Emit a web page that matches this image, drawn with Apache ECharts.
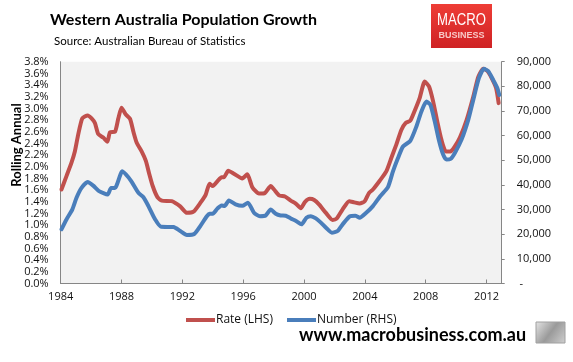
<!DOCTYPE html>
<html>
<head>
<meta charset="utf-8">
<script src="https://cdn.jsdelivr.net/npm/echarts@6.0.0/dist/echarts.min.js"></script>
<style>
html,body{margin:0;padding:0;background:#fff;}
#chart{width:573px;height:362px;}
</style>
</head>
<body>
<div id="chart"></div>
<script>
// Rate (LHS), % rolling annual growth
var rateYears = [1984.05,1984.38,1984.71,1984.93,1985.15,1985.42,1985.77,1986.03,1986.25,1986.47,1986.80,1987.07,1987.24,1987.57,1987.79,1988.00,1988.27,1988.56,1988.78,1989.00,1989.33,1989.60,1989.81,1990.05,1990.36,1990.65,1991.30,1991.86,1992.30,1992.73,1993.18,1993.53,1993.79,1994.00,1994.30,1994.58,1994.73,1995.02,1995.39,1995.94,1996.27,1996.60,1997.04,1997.43,1997.81,1998.03,1998.36,1998.75,1999.13,1999.46,1999.79,2000.07,2000.38,2000.67,2001.00,2001.44,2001.88,2002.14,2002.54,2002.97,2003.30,2003.66,2003.99,2004.27,2004.53,2004.98,2005.41,2005.74,2006.07,2006.40,2006.69,2006.99,2007.28,2007.61,2007.94,2008.23,2008.49,2008.76,2009.04,2009.33,2009.63,2009.92,2010.25,2010.69,2011.13,2011.46,2011.79,2012.06,2012.34,2012.63,2012.80];
var rateValues = [1.61,1.84,2.07,2.26,2.55,2.83,2.88,2.83,2.75,2.56,2.50,2.43,2.59,2.60,2.83,3.01,2.90,2.82,2.60,2.41,2.26,2.10,1.89,1.67,1.48,1.42,1.41,1.32,1.21,1.23,1.38,1.52,1.71,1.67,1.75,1.82,1.82,1.93,1.88,1.80,1.87,1.65,1.54,1.55,1.67,1.61,1.51,1.49,1.42,1.37,1.29,1.40,1.45,1.43,1.35,1.21,1.09,1.11,1.27,1.41,1.39,1.37,1.41,1.55,1.61,1.76,1.92,2.15,2.38,2.63,2.75,2.79,2.96,3.18,3.46,3.37,3.12,2.78,2.46,2.26,2.26,2.35,2.50,2.80,3.20,3.54,3.68,3.64,3.52,3.35,3.09];

// Number (RHS), persons
var numberYears = [1984.05,1984.38,1984.76,1985.04,1985.37,1985.77,1986.14,1986.52,1987.09,1987.31,1987.57,1988.05,1988.45,1988.71,1989.11,1989.44,1989.77,1990.21,1990.60,1991.42,1991.86,1992.30,1992.80,1993.18,1993.61,1993.79,1994.00,1994.30,1994.58,1994.78,1995.06,1995.50,1995.94,1996.31,1996.71,1997.10,1997.48,1997.81,1998.14,1998.46,1998.80,1999.13,1999.50,1999.83,2000.16,2000.45,2000.78,2001.11,2001.48,2001.83,2002.21,2002.54,2003.02,2003.37,2003.66,2004.09,2004.53,2005.01,2005.52,2005.85,2006.18,2006.51,2006.99,2007.39,2007.72,2008.05,2008.31,2008.60,2008.88,2009.15,2009.37,2009.63,2009.92,2010.36,2010.80,2011.13,2011.50,2011.83,2012.11,2012.44,2012.71,2012.84];
var numberValues = [22000,26000,30000,34800,38800,41200,39700,37500,36100,38800,38800,45500,43100,40800,36800,35000,31400,26000,23000,22900,21300,19700,20200,23300,27300,28300,28300,30400,31700,31400,33700,32100,31500,32800,28700,27300,27600,30000,28300,27600,27500,26400,25300,24000,26700,27300,26400,24700,22400,20600,21300,24000,27300,27500,26700,28700,31400,35400,39100,45500,50900,55600,57900,63700,69800,73800,72500,65700,57900,52300,50300,50500,53000,58400,66400,74500,83300,87100,86200,82600,79300,76500];

var seriesNames = ['Rate (LHS)', 'Number (RHS)'];
var xTicks = [1984, 1988, 1992, 1996, 2000, 2004, 2008, 2012];

function pairs(xs, ys){ return xs.map(function(x,i){ return [x, ys[i]]; }); }

var chart = echarts.init(document.getElementById('chart'), null, {renderer:'canvas'});
var axisFont = {fontFamily:'Open Sans', fontSize:11, color:'#111'};
chart.setOption({
  animation:false,
  backgroundColor:'#ffffff',
  grid:{left:60.7, right:71.3, top:61.7, bottom:78.5, show:true, backgroundColor:'#f2f2f2', borderWidth:0, containLabel:false},
  xAxis:{
    type:'value', min:1984, max:2013, interval:4,
    axisLine:{show:true, lineStyle:{color:'#868686', width:1}},
    axisTick:{show:true, inside:true, length:4, lineStyle:{color:'#868686'}},
    splitLine:{show:false},
    axisLabel:Object.assign({margin:8, showMaxLabel:false, formatter:function(v){ return xTicks.indexOf(v) >= 0 ? String(v) : ''; }}, axisFont)
  },
  yAxis:[{
    type:'value', min:0, max:3.8, interval:0.2, position:'left',
    axisLine:{show:true, lineStyle:{color:'#868686'}},
    axisTick:{show:false},
    splitLine:{show:false},
    axisLabel:Object.assign({margin:12, formatter:function(v){ return v.toFixed(1)+'%'; }}, axisFont)
  },{
    type:'value', min:0, max:90000, interval:10000, position:'right',
    axisLine:{show:true, lineStyle:{color:'#868686'}},
    axisTick:{show:true, inside:false, length:3, lineStyle:{color:'#868686'}},
    splitLine:{show:false},
    axisLabel:Object.assign({margin:15, align:'left', formatter:function(v){ return v===0 ? ' -' : v.toLocaleString('en-US'); }}, axisFont)
  }],
  legend:{
    data:seriesNames, left:181, top:309, itemWidth:29, itemHeight:4, itemGap:14, icon:'rect',
    textStyle:{fontFamily:'Open Sans', fontSize:12, color:'#111', padding:[0,0,0,-4]}
  },
  series:[{
    name:seriesNames[0], type:'line', yAxisIndex:0, showSymbol:false, smooth:0.2,
    data:pairs(rateYears, rateValues),
    color:'#c0504d',
    lineStyle:{width:4, color:'#c0504d', join:'round', cap:'round'}
  },{
    name:seriesNames[1], type:'line', yAxisIndex:1, showSymbol:false, smooth:0.2,
    data:pairs(numberYears, numberValues),
    color:'#4a7ebb',
    lineStyle:{width:4, color:'#4a7ebb', join:'round', cap:'round'}
  }],
  graphic:[
    {type:'text', x:50, y:20, style:{text:'Western Australia Population Growth', fontFamily:'Lato', fontWeight:'bold', fontSize:16, fill:'#000', align:'left', verticalAlign:'middle'}},
    {type:'text', x:54, y:41.5, style:{text:'Source: Australian Bureau of Statistics', fontFamily:'Lato', fontSize:11.5, fill:'#000', align:'left', verticalAlign:'middle'}},
    {type:'rect', shape:{x:431, y:4, width:61, height:44}, style:{fill:new echarts.graphic.LinearGradient(0,0,0,1,[{offset:0,color:'#ee3d36'},{offset:1,color:'#cf2224'}])}},
    {type:'text', x:461.5, y:21, scaleX:0.82, style:{text:'MACRO', fontFamily:'Liberation Sans', fontSize:16, fill:'#ffffff', align:'center', verticalAlign:'middle'}},
    {type:'text', x:461.5, y:35.5, style:{text:'BUSINESS', fontFamily:'Liberation Sans', fontWeight:'bold', fontSize:9, fill:'#f8c8c6', align:'center', verticalAlign:'middle'}},
    {type:'text', x:16.5, y:145, rotation:Math.PI/2, style:{text:'Rolling Annual', fontFamily:'Lato', fontWeight:'bold', fontSize:13, fill:'#000', align:'center', verticalAlign:'middle'}},
    {type:'text', x:299, y:335, style:{text:'www.macrobusiness.com.au', fontFamily:'Lato', fontWeight:'bold', fontSize:18, fill:'#000', align:'left', verticalAlign:'middle'}},
    {type:'rect', shape:{x:536, y:322, width:29, height:21}, style:{fill:new echarts.graphic.LinearGradient(0,0,1,1,[{offset:0,color:'#e6e6e6'},{offset:0.5,color:'#9a9a9a'},{offset:1,color:'#d0d0d0'}]), stroke:'#a0a0a0', lineWidth:1}}
  ]
});
</script>
</body>
</html>
